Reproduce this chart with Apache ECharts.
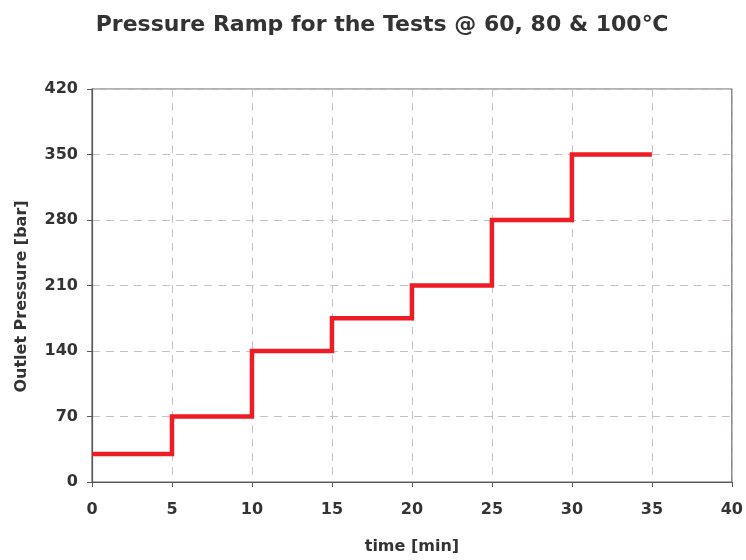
<!DOCTYPE html>
<html><head><meta charset="utf-8">
<script src="https://cdn.jsdelivr.net/npm/echarts@6/dist/echarts.min.js"></script>
<style>html,body{margin:0;padding:0;background:#fff}#c{width:746px;height:560px}</style>
</head><body><div id="c"></div>
<script>
const timeMin = [0, 5, 10, 15, 20, 25, 30, 35];
const pressureBar = [30, 70, 140, 175, 210, 280, 350, 350];
const xTicks = [0, 5, 10, 15, 20, 25, 30, 35, 40];
const yTicks = [0, 70, 140, 210, 280, 350, 420];

const FONT = '"DejaVu Sans", "Liberation Sans", Arial, sans-serif';
const chart = echarts.init(document.getElementById('c'), null, {renderer: 'canvas'});
chart.setOption({
  backgroundColor: '#fff',
  animation: false,
  title: {
    text: 'Pressure Ramp for the Tests @ 60, 80 & 100\u2103',
    left: 377, textAlign: 'center', top: 9,
    textStyle: {fontFamily: FONT, fontWeight: 'bold', fontSize: 22, color: '#333'}
  },
  grid: {left: 92, right: 9, top: 89, bottom: 75, show: true, borderColor: '#6b6464', borderWidth: 1.2, backgroundColor: 'transparent'},
  xAxis: {
    type: 'value', min: xTicks[0], max: xTicks[xTicks.length - 1], interval: 5,
    name: 'time [min]', nameLocation: 'middle', nameGap: 57,
    nameTextStyle: {fontFamily: FONT, fontWeight: 'bold', fontSize: 16, color: '#333'},
    axisLine: {show: true, lineStyle: {color: '#5c5656', width: 1.2}},
    axisTick: {show: true, inside: false, length: 5, lineStyle: {color: '#5c5656'}},
    axisLabel: {fontFamily: FONT, fontWeight: 'bold', fontSize: 16, color: '#333', margin: 20},
    splitLine: {show: true, lineStyle: {color: '#c9c0c0', type: [8, 6], width: 1}}
  },
  yAxis: {
    type: 'value', min: yTicks[0], max: yTicks[yTicks.length - 1], interval: 70,
    name: 'Outlet Pressure [bar]', nameLocation: 'middle', nameGap: 62,
    nameTextStyle: {fontFamily: FONT, fontWeight: 'bold', fontSize: 16, color: '#333', padding: [0, 0, 0, -22]},
    axisLine: {show: true, lineStyle: {color: '#5c5656', width: 1.2}},
    axisTick: {show: true, inside: false, length: 5, lineStyle: {color: '#5c5656'}},
    axisLabel: {fontFamily: FONT, fontWeight: 'bold', fontSize: 16, color: '#333', margin: 14},
    splitLine: {show: true, lineStyle: {color: '#c9c0c0', type: [8, 6], width: 1}}
  },
  series: [{
    type: 'line',
    step: 'end',
    data: timeMin.map((t, i) => [t, pressureBar[i]]),
    symbol: 'none',
    lineStyle: {color: '#ee1c25', width: 4.5, join: 'miter'},
    z: 5
  }]
});
</script></body></html>
